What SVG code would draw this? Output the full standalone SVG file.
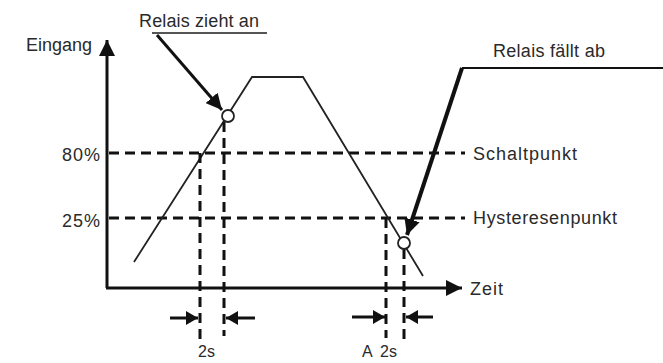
<svg xmlns="http://www.w3.org/2000/svg" width="663" height="363" viewBox="0 0 663 363">
<defs>
<style>
.t{font-family:"Liberation Sans","Open Sans",sans-serif;font-size:18px;fill:#2a2a2a}
.s{font-size:16px}
.ax{stroke:#111;stroke-width:3;fill:none}
.cv{stroke:#222;stroke-width:1.8;fill:none}
.ds{stroke:#111;stroke-width:3;stroke-dasharray:10 6;fill:none}
.ar{stroke:#111;stroke-width:3;fill:none}
.pt{fill:#fff;stroke:#222;stroke-width:1.8}
</style>
<marker id="ah" markerUnits="userSpaceOnUse" markerWidth="20" markerHeight="16" refX="16" refY="8" orient="auto">
<path d="M0,0 L16,8 L0,16 Z" fill="#111"/>
</marker>
<marker id="as" markerUnits="userSpaceOnUse" markerWidth="14" markerHeight="14" refX="12" refY="7" orient="auto">
<path d="M0,0 L12,7 L0,14 Z" fill="#111"/>
</marker>
</defs>
<g id="axes">
<line class="ax" x1="107" y1="288" x2="107" y2="40" marker-end="url(#ah)"/>
<line class="ax" x1="106" y1="288" x2="462" y2="288" marker-end="url(#ah)"/>
<text class="t" x="26" y="51" textLength="66">Eingang</text>
<text class="t" x="470" y="295" textLength="33">Zeit</text>
</g>
<g id="levels">
<line class="ds" x1="109" y1="153" x2="465" y2="153"/>
<line class="ds" x1="109" y1="218" x2="465" y2="218"/>
<text class="t" x="62" y="161" textLength="38">80%</text>
<text class="t" x="62" y="227" textLength="38">25%</text>
<text class="t" x="473" y="160" textLength="104">Schaltpunkt</text>
<text class="t" x="473" y="224" textLength="144">Hysteresenpunkt</text>
</g>
<g id="signal">
<polyline class="cv" points="134,262 252,77 303,77 423,276"/>
</g>
<g id="connectors">
<line class="ds" x1="200" y1="153" x2="200" y2="342"/>
<line class="ds" x1="224" y1="122" x2="224" y2="336"/>
<line class="ds" x1="386" y1="218" x2="386" y2="338"/>
<line class="ds" x1="404" y1="249" x2="404" y2="343"/>
<line class="ar" x1="170" y1="318" x2="198" y2="318" marker-end="url(#as)"/>
<line class="ar" x1="255" y1="318" x2="226" y2="318" marker-end="url(#as)"/>
<line class="ar" x1="352" y1="317" x2="385" y2="317" marker-end="url(#as)"/>
<line class="ar" x1="433" y1="317" x2="406" y2="317" marker-end="url(#as)"/>
<line stroke="#555" stroke-width="2" x1="152" y1="33" x2="267" y2="33"/>
<line class="ar" x1="157" y1="35" x2="222" y2="110" marker-end="url(#ah)"/>
<line stroke="#111" stroke-width="2" x1="462" y1="68" x2="663" y2="68"/>
<line stroke="#111" stroke-width="4" fill="none" x1="462" y1="68" x2="407" y2="235" marker-end="url(#ah)"/>
</g>
<g id="relais-an">
<circle class="pt" cx="228" cy="116" r="6"/>
<text class="t" x="139" y="27" textLength="120">Relais zieht an</text>
</g>
<g id="relais-ab">
<circle class="pt" cx="404" cy="243" r="6"/>
<text class="t" x="493" y="57" textLength="112">Relais fällt ab</text>
</g>
<g id="labels">
<text class="t s" x="198" y="357">2s</text>
<text class="t s" x="362" y="357">A</text>
<text class="t s" x="380" y="357">2s</text>
</g>
</svg>
